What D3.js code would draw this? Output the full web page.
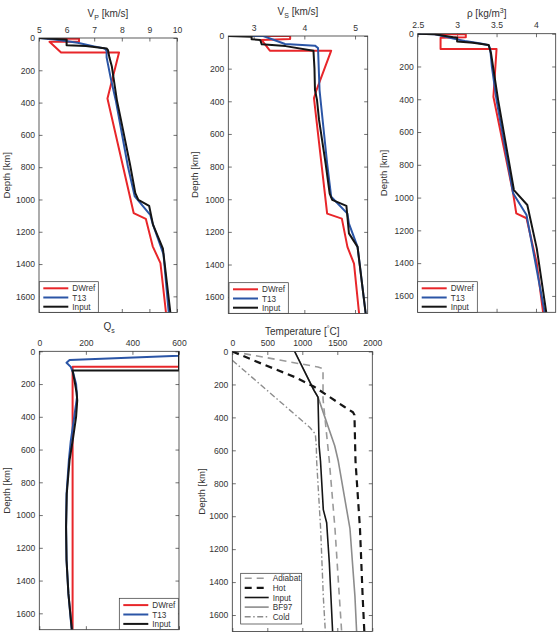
<!DOCTYPE html>
<html>
<head>
<meta charset="utf-8">
<script src="https://cdn.jsdelivr.net/npm/d3@7/dist/d3.min.js"></script>
<style>
body { margin: 0; background: #fff; }
svg text { font-family: "Liberation Sans", Arial, sans-serif; fill: #333; }
</style>
</head>
<body>
<div id="content"></div>
<script>
var width = 559,
    height = 637;

// depth axis, shared by every panel
var depthMax = 1700;
var depthTicks = [0, 200, 400, 600, 800, 1000, 1200, 1400, 1600];

// model names for the seismic panels
var modelNames = ["DWref", "T13", "Input"];

// all profiles are [value, depth km]
var vpDWref = [[5.32,0],[5.32,5],[6.45,5],[6.45,23],[5.38,23],[5.8,90],[7.9,90],[7.48,375],[8.43,1084],[8.87,1120],[9.12,1290],[9.4,1394],[9.6,1700]];
var vpT13 = [[5.0,0],[5.5,8],[6.4,30],[7.0,52],[7.38,65],[7.45,80],[7.45,120],[7.6,250],[7.78,385],[8.22,794],[8.47,981],[9.03,1095],[9.13,1156],[9.51,1338],[9.7,1700]];
var vpInput = [[5.0,0],[5.5,5],[6.0,10],[6.0,45],[6.7,50],[7.45,65],[7.5,75],[7.55,120],[7.64,177],[7.82,383],[7.97,507],[8.3,785],[8.49,961],[8.6,1002],[8.99,1039],[9.13,1156],[9.49,1305],[9.76,1700]];
var vpTicks = [5, 6, 7, 8, 9, 10];

var vsDWref = [[3.19,0],[3.72,0],[3.72,18],[3.16,25],[3.32,90],[4.53,90],[4.24,331],[4.19,380],[4.45,1088],[4.74,1119],[4.85,1292],[4.98,1395],[5.08,1700]];
var vsT13 = [[2.5,0],[3.19,0],[3.62,49],[4.21,59],[4.27,74],[4.3,331],[4.32,392],[4.45,781],[4.53,985],[4.85,1088],[4.88,1150],[5.05,1292],[5.21,1700]];
var vsInput = [[2.5,0],[2.96,4],[2.96,20],[3.13,24],[3.16,51],[3.63,62],[4.18,90],[4.2,200],[4.21,331],[4.25,392],[4.29,514],[4.42,781],[4.5,965],[4.55,1004],[4.83,1041],[4.88,1209],[5.05,1292],[5.21,1700]];
var vsTicks = [3, 4, 5];

var rhoDWref = [[2.72,0],[2.72,4],[3.11,4],[3.11,22],[2.79,24],[2.79,93],[3.5,93],[3.46,385],[3.71,974],[3.75,1096],[3.88,1126],[4.01,1401],[4.09,1700]];
var rhoT13 = [[2.5,0],[2.72,4],[2.95,30],[3.1,45],[3.3,60],[3.4,70],[3.42,95],[3.44,200],[3.5,405],[3.71,974],[3.88,1106],[4.11,1700]];
var rhoInput = [[2.5,0],[2.72,4],[2.95,22],[3.0,24],[3.0,48],[3.2,55],[3.4,69],[3.43,120],[3.52,405],[3.72,954],[3.89,1045],[4.01,1310],[4.13,1700]];
var rhoTicks = [2.5, 3, 3.5, 4];

var qsDWref = [[600,0],[600,94],[143,94],[143,1700]];
var qsT13 = [[600,0],[600,27],[130,53],[117,70],[135,95],[145,130],[158,200],[162,280],[150,400],[135,550],[127,665],[117,870],[115,1073],[117,1276],[125,1480],[139,1700]];
var qsInput = [[600,0],[600,118],[143,118],[150,170],[160,250],[163,300],[158,400],[145,530],[130,665],[118,870],[115,1073],[117,1276],[125,1480],[140,1700]];
var qsTicks = [0, 200, 400, 600];

// temperature profiles
var tempNames = ["Adiabat", "Hot", "Input", "BF97", "Cold"];
var tAdiabat = [[0,0],[1224,94],[1296,104],[1296,288],[1386,665],[1467,1076],[1529,1487],[1562,1700]];
var tHot = [[0,0],[414,73],[891,155],[1177,216],[1605,337],[1724,369],[1745,385],[1760,665],[1824,1076],[1862,1487],[1886,1700]];
var tInput = [[891,0],[1167,236],[1224,277],[1240,572],[1260,665],[1300,960],[1348,1040],[1386,1283],[1433,1700]];
var tBF97 = [[891,0],[1167,236],[1224,277],[1463,572],[1514,665],[1681,1076],[1752,1487],[1776,1700]];
var tCold = [[0,53],[1105,460],[1186,501],[1200,572],[1205,665],[1262,1076],[1300,1487],[1329,1700]];
var tempTicks = [0, 500, 1000, 1500, 2000];

var red = "#e8262a", blue = "#2b55a6", black = "#151515";
var modelStyles = [
    { color: red, width: 2 },
    { color: blue, width: 2 },
    { color: black, width: 2 }
];
var tempStyles = [
    { color: "#9a9a9a", width: 1.6, dash: "7,5" },
    { color: black, width: 2.2, dash: "7,5" },
    { color: black, width: 1.6, dash: null },
    { color: "#8c8c8c", width: 1.6, dash: null },
    { color: "#8c8c8c", width: 1.4, dash: "6,2.5,1.5,2.5" }
];

var svg = d3.select("#content")
    .append("svg")
    .attr("width", width)
    .attr("height", height);

var clipId = 0;
var plain = function (d) { return String(d); };

function drawPanel(p) {
    var x = d3.scaleLinear().domain(p.domain).range([p.left, p.right]);
    var y = d3.scaleLinear().domain([0, depthMax]).range([p.top, p.bottom]);
    var g = svg.append("g");

    // ticks point inward on all four sides, labels only top and left
    var top = g.append("g").attr("transform", "translate(0," + p.top + ")")
        .call(d3.axisTop(x).tickValues(p.ticks).tickSize(-3.5).tickSizeOuter(0).tickPadding(5.5)
            .tickFormat(plain));
    var bottom = g.append("g").attr("transform", "translate(0," + p.bottom + ")")
        .call(d3.axisBottom(x).tickValues(p.ticks).tickSize(-3.5).tickSizeOuter(0).tickFormat(""));
    var left = g.append("g").attr("transform", "translate(" + p.left + ",0)")
        .call(d3.axisLeft(y).tickValues(depthTicks).tickSize(-3.5).tickSizeOuter(0).tickPadding(4)
            .tickFormat(plain));
    var right = g.append("g").attr("transform", "translate(" + p.right + ",0)")
        .call(d3.axisRight(y).tickValues(depthTicks).tickSize(-3.5).tickSizeOuter(0).tickFormat(""));

    [top, bottom, left, right].forEach(function (a) {
        a.select(".domain").remove();
        a.selectAll("line").attr("stroke", "#333").attr("stroke-width", 0.7);
        a.selectAll("text").attr("font-size", 8.6).attr("fill", "#333")
            .attr("font-family", "Liberation Sans, Arial, sans-serif");
    });

    var id = "clip" + (clipId++);
    g.append("clipPath").attr("id", id).append("rect")
        .attr("x", p.left).attr("y", p.top)
        .attr("width", p.right - p.left).attr("height", p.bottom - p.top);

    var line = d3.line()
        .x(function (d) { return x(d[0]); })
        .y(function (d) { return y(d[1]); });

    var lines = g.append("g").attr("clip-path", "url(#" + id + ")");
    p.series.forEach(function (s, i) {
        var st = p.styles[i];
        lines.append("path")
            .datum(s)
            .attr("d", line)
            .attr("fill", "none")
            .attr("stroke", st.color)
            .attr("stroke-width", st.width)
            .attr("stroke-dasharray", st.dash || null)
            .attr("stroke-linejoin", "round");
    });

    g.append("rect")
        .attr("x", p.left).attr("y", p.top)
        .attr("width", p.right - p.left).attr("height", p.bottom - p.top)
        .attr("fill", "none").attr("stroke", "#333").attr("stroke-width", 0.8);

    // depth label
    g.append("text")
        .attr("transform", "translate(" + p.ylabelX + "," + ((p.top + p.bottom) / 2) + ") rotate(-90)")
        .attr("text-anchor", "middle")
        .attr("font-size", 9.6)
        .text("Depth [km]");

    // title
    var t = g.append("text")
        .attr("x", (p.left + p.right) / 2)
        .attr("y", p.titleY)
        .attr("text-anchor", "middle")
        .attr("font-size", 10);
    p.title(t);

    // legend
    var lg = p.legend;
    var leg = g.append("g");
    leg.append("rect")
        .attr("x", lg.x).attr("y", lg.y).attr("width", lg.w).attr("height", lg.h)
        .attr("fill", "#fff").attr("stroke", "#333").attr("stroke-width", 0.7);
    lg.names.forEach(function (name, i) {
        var st = lg.styles[i];
        var ry = lg.y + lg.pad + i * lg.step;
        leg.append("line")
            .attr("x1", lg.x + 4).attr("x2", lg.x + 4 + lg.len)
            .attr("y1", ry).attr("y2", ry)
            .attr("stroke", st.color).attr("stroke-width", st.width)
            .attr("stroke-dasharray", st.dash || null);
        leg.append("text")
            .attr("x", lg.x + 8 + lg.len).attr("y", ry + 3)
            .attr("font-size", 8.2)
            .text(name);
    });
}

function subTitle(main, sub, rest) {
    return function (t) {
        t.append("tspan").text(main);
        t.append("tspan").attr("font-size", 7).attr("dy", 3).text(sub);
        t.append("tspan").attr("dy", -3).text(" " + rest);
    };
}

window.addEventListener('load', function () {

    drawPanel({
        left: 39, right: 177, top: 38, bottom: 312.5, domain: [5, 10], ticks: vpTicks,
        series: [vpDWref, vpT13, vpInput], styles: modelStyles,
        ylabelX: 10, titleY: 16.5,
        title: subTitle("V", "P", "[km/s]"),
        legend: { x: 39.3, y: 281.7, w: 59, h: 30.6, pad: 6.6, step: 9.2, len: 25, names: modelNames, styles: modelStyles }
    });

    drawPanel({
        left: 228.3, right: 367.7, top: 36, bottom: 313.5, domain: [2.5, 5.25], ticks: vsTicks,
        series: [vsDWref, vsT13, vsInput], styles: modelStyles,
        ylabelX: 198, titleY: 15,
        title: subTitle("V", "S", "[km/s]"),
        legend: { x: 229, y: 282.7, w: 59.3, h: 30.6, pad: 6.6, step: 9.2, len: 25, names: modelNames, styles: modelStyles }
    });

    drawPanel({
        left: 417.7, right: 555.7, top: 33.7, bottom: 312.3, domain: [2.5, 4.25], ticks: rhoTicks,
        series: [rhoDWref, rhoT13, rhoInput], styles: modelStyles,
        ylabelX: 387, titleY: 17,
        title: function (t) {
            t.append("tspan").text("\u03c1 [kg/m");
            t.append("tspan").attr("font-size", 7).attr("dy", -4).text("3");
            t.append("tspan").attr("dy", 4).text("]");
        },
        legend: { x: 417.7, y: 281.7, w: 59.6, h: 30.6, pad: 6.6, step: 9.2, len: 25, names: modelNames, styles: modelStyles }
    });

    drawPanel({
        left: 39.3, right: 179, top: 351.3, bottom: 629.7, domain: [0, 600], ticks: qsTicks,
        series: [qsDWref, qsT13, qsInput], styles: modelStyles,
        ylabelX: 10, titleY: 329.5,
        title: function (t) {
            t.append("tspan").text("Q");
            t.append("tspan").attr("font-size", 7).attr("dy", 3).text("s");
        },
        legend: { x: 119.3, y: 598.3, w: 59, h: 31.2, pad: 6.8, step: 9.4, len: 25, names: modelNames, styles: modelStyles }
    });

    // gray lines first, black on top
    drawPanel({
        left: 232.3, right: 372.3, top: 351.5, bottom: 631.5, domain: [0, 2000], ticks: tempTicks,
        series: [tBF97, tAdiabat, tCold, tHot, tInput],
        styles: [tempStyles[3], tempStyles[0], tempStyles[4], tempStyles[1], tempStyles[2]],
        ylabelX: 205, titleY: 335,
        title: function (t) {
            t.append("tspan").text("Temperature [");
            t.append("tspan").attr("font-size", 7).attr("dy", -4).text("\u00b0");
            t.append("tspan").attr("dy", 4).text("C]");
        },
        legend: { x: 240.7, y: 573.3, w: 61, h: 50.7, pad: 5, step: 9.6, len: 24, names: tempNames, styles: tempStyles }
    });
});
</script>
</body>
</html>
